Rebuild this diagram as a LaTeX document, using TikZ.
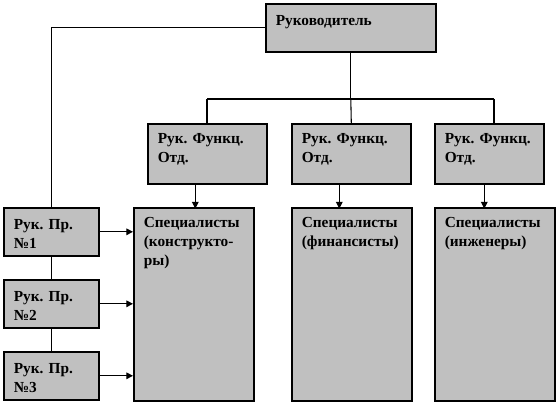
\documentclass[tikz,border=0pt]{standalone}
\usepackage{fontspec}
\setmainfont{Liberation Serif}
\usetikzlibrary{arrows.meta}
\definecolor{boxgray}{RGB}{192,192,192}
\frenchspacing
\begin{document}
\begin{tikzpicture}[
      x=0.75pt, y=-0.75pt,
      box/.style={draw, line width=1.2pt, fill=boxgray, anchor=north west,
        align=left, inner xsep=7.5pt, inner ysep=0pt, text height=15pt,
        font=\fontsize{11.5}{14}\selectfont\bfseries},
      chiefbox/.style={box, text width=112.5pt, text height=16.5pt, text depth=19.5pt},
      funcbox/.style={box, text width=74.25pt, text depth=30pt},
      specbox/.style={box, text width=75pt, text depth=129.75pt},
      projbox/.style={box, text width=56.25pt, text height=16.5pt, text depth=19.5pt},
      line/.style={line width=0.8pt},
      arrow/.style={line, -{Triangle[length=5pt, width=5pt]}},
    ]
    \useasboundingbox (0,0) rectangle (558,402);
    \node[chiefbox] (chief) at (265, 3) {Руководитель};
    \node[funcbox] (func1) at (147, 123) {Рук. Функц. \\ Отд.};
    \node[funcbox] (func2) at (291, 123) {Рук. Функц. \\ Отд.};
    \node[funcbox, text width=66.75pt] (func3) at (434, 123) {Рук. Функц. \\ Отд.};
    \node[specbox] (spec1) at (133, 207) {Специалисты \\ (конструкто- \\ ры)};
    \node[specbox] (spec2) at (291, 207) {Специалисты \\ (финансисты)};
    \node[specbox] (spec3) at (434, 207) {Специалисты \\ (инженеры)};
    \node[projbox] (proj1) at (3, 207) {Рук. Пр. \\ №1};
    \node[projbox] (proj2) at (3, 279) {Рук. Пр. \\ №2};
    \node[projbox] (proj3) at (3, 351) {Рук. Пр. \\ №3};
    \coordinate (busL) at (207, 99);
    \coordinate (busR) at (494, 99);
    \draw[line] (chief.west) -| (proj1.north);
    \draw[line] (chief.south) -- (chief.south |- busL);
    \draw[line] (busL) -- (busR);
    \draw[line] (busL) -- (busL |- func1.north);
    \draw[line] (chief.south |- busL) -- (func2.north);
    \draw[line] (busR) -- (busR |- func3.north);
    \draw[arrow] (func1.south) ++(-12, 0) -- ++(0, 24);
    \draw[arrow] (func2.south) ++(-12, 0) -- ++(0, 24);
    \draw[arrow] (func3.south) ++(-5, 0) -- ++(0, 24);
    \draw[line] (proj1.south) -- (proj2.north);
    \draw[line] (proj2.south) -- (proj3.north);
    \draw[arrow] (proj1.east) -- (proj1.east -| spec1.west);
    \draw[arrow] (proj2.east) -- (proj2.east -| spec1.west);
    \draw[arrow] (proj3.east) -- (proj3.east -| spec1.west);
  \end{tikzpicture}
\end{document}
